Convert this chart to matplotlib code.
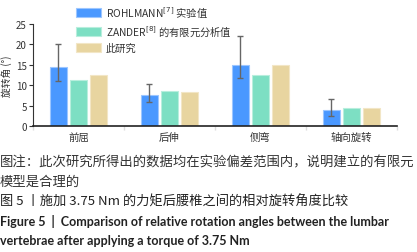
import matplotlib
matplotlib.use("Agg")
import matplotlib.pyplot as plt
import numpy as np

plt.rcParams['font.family'] = ['Noto Sans CJK SC', 'DejaVu Sans']
plt.rcParams['mathtext.fontset'] = 'dejavusans'

categories = ['前屈', '后伸', '侧弯', '轴向旋转']
rohlmann = [14.5, 7.5, 15.0, 4.0]
rohlmann_lo = [11.0, 6.0, 11.8, 2.5]
rohlmann_hi = [20.0, 10.2, 22.0, 6.7]
zander = [11.2, 8.6, 12.5, 4.3]
study = [12.5, 8.4, 15.0, 4.3]
labels = ['ROHLMANN$^{[7]}$ 实验值', 'ZANDER$^{[8]}$ 的有限元分析值', '此研究']
yticks = [0, 5, 10, 15, 20, 25]

colors = ['#4a98ff', '#7ddfc3', '#e8d5a0']
edges = ['#9cc6ff', '#b8eedd', '#f2e6c6']

W, H = 417, 253
fig = plt.figure(figsize=(W / 100, H / 100), dpi=100)
ax = fig.add_axes([33 / W, 1 - 127 / H, 364 / W, 102 / H])

x = np.arange(len(categories))
bw = 0.187
off = 0.22
err = [np.array(rohlmann) - np.array(rohlmann_lo), np.array(rohlmann_hi) - np.array(rohlmann)]
series = [rohlmann, zander, study]
for i, (vals, c, ec, lab) in enumerate(zip(series, colors, edges, labels)):
    ax.bar(x + (i - 1) * off, vals, bw, color=c, edgecolor=ec, linewidth=0.8, label=lab, zorder=2)
ax.errorbar(x - off, rohlmann, yerr=err, fmt='none', ecolor='#666666', elinewidth=1,
            capsize=2.5, capthick=1, zorder=3)

ax.set_xlim(-0.5, len(categories) - 0.5)
ax.set_ylim(0, 25)
ax.set_yticks(yticks)
ax.set_yticklabels([str(t) for t in yticks], fontsize=7, color='#333333')
ax.set_xticks(x)
ax.set_xticklabels(categories, fontsize=7.5, color='#333333')
ax.set_xticks(np.arange(len(categories) + 1) - 0.5, minor=True)
ax.tick_params(axis='x', which='major', length=0, pad=4)
ax.tick_params(axis='x', which='minor', length=3, color='#dddddd', width=1)
ax.tick_params(axis='y', length=3, width=0.8, pad=1.5, color='#333333')
for s in ['top', 'right']:
    ax.spines[s].set_visible(False)
ax.spines['bottom'].set_linewidth(1.2)
ax.spines['bottom'].set_color('#222222')
ax.spines['left'].set_linewidth(0.8)
ax.spines['left'].set_color('#333333')
ax.set_ylabel('旋转角 (°)', fontsize=7, color='#333333', labelpad=3)

leg = ax.legend(loc='upper left', bbox_to_anchor=(76 / W, 1 - 6 / H), bbox_transform=fig.transFigure,
                frameon=False, fontsize=7.4, handlelength=2.4, handleheight=0.9,
                labelspacing=0.45, handletextpad=0.5, borderpad=0, borderaxespad=0)
for t in leg.get_texts():
    t.set_color('#333333')

cap_font = ['Noto Sans CJK SC', 'DejaVu Sans']
fig.text(0, 1 - 162 / H, '图注：此次研究所得出的数据均在实验偏差范围内，说明建立的有限元',
         fontsize=9.6, va='center', ha='left', color='#333333', family=cap_font)
fig.text(0, 1 - 182 / H, '模型是合理的',
         fontsize=9.6, va='center', ha='left', color='#333333', family=cap_font)
fig.text(0, 1 - 202 / H, '图 5 丨施加 3.75 Nm 的力矩后腰椎之间的相对旋转角度比较',
         fontsize=9.5, va='center', ha='left', color='#222222', family=cap_font)
fig.text(0, 1 - 222 / H, 'Figure 5  |  Comparison of relative rotation angles between the lumbar',
         fontsize=9.0, va='center', ha='left', color='#222222', fontweight='bold',
         family=['Lato', 'DejaVu Sans'])
fig.text(0, 1 - 241 / H, 'vertebrae after applying a torque of 3.75 Nm',
         fontsize=9.0, va='center', ha='left', color='#222222', fontweight='bold',
         family=['Lato', 'DejaVu Sans'])

fig.savefig('out.png', dpi=100)
